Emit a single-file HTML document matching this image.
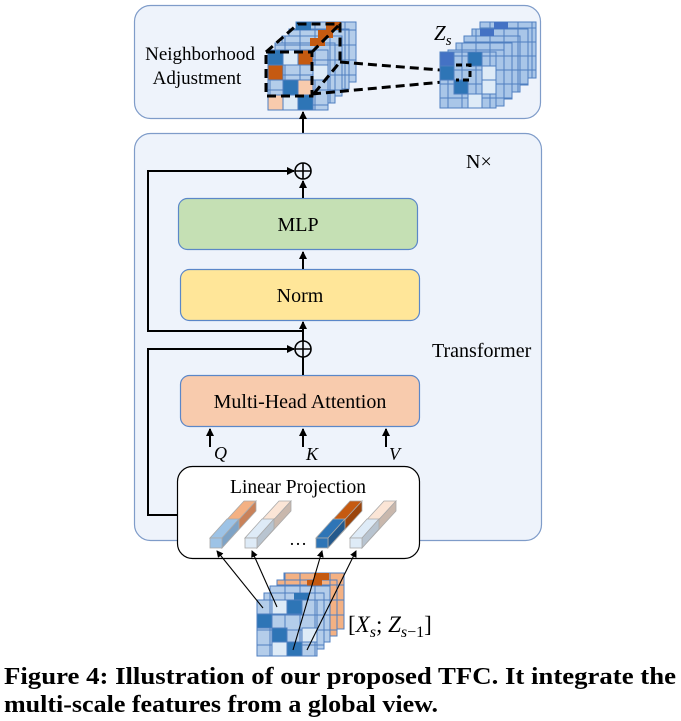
<!DOCTYPE html>
<html><head><meta charset="utf-8"><style>
body{margin:0;background:#fff;width:681px;height:721px;overflow:hidden}
svg{display:block}
.t{font-family:"Liberation Serif",serif;fill:#000}
</style></head><body>
<svg width="681" height="721" viewBox="0 0 681 721">
<defs>
<pattern id="pb" width="15" height="15" patternUnits="userSpaceOnUse"><rect x="0" y="0" width="15" height="15" fill="#b4cdea" stroke="#4f7fc0" stroke-width="1"/></pattern>
<pattern id="po" width="15" height="15" patternUnits="userSpaceOnUse"><rect x="0" y="0" width="15" height="15" fill="#f4b183" stroke="#4f7fc0" stroke-width="1"/></pattern>
<pattern id="pz" width="14" height="14" patternUnits="userSpaceOnUse"><rect x="0" y="0" width="14" height="14" fill="#a9c6e8" stroke="#4f7fc0" stroke-width="1"/></pattern>
<marker id="ar" markerWidth="8" markerHeight="8" refX="7" refY="4" orient="auto" markerUnits="userSpaceOnUse"><path d="M0,0 L8,4 L0,8 z" fill="#000"/></marker>
<marker id="as" markerWidth="7" markerHeight="7" refX="6" refY="3.5" orient="auto" markerUnits="userSpaceOnUse"><path d="M0,0 L7,3.5 L0,7 z" fill="#000"/></marker>
</defs>

<rect x="134.5" y="5.5" width="406" height="113" rx="16" fill="#eef3fb" stroke="#7f9cc9" stroke-width="1.2"/>
<text class="t" x="200" y="60" font-size="19" text-anchor="middle">Neighborhood</text>
<text class="t" x="197" y="84" font-size="19" text-anchor="middle">Adjustment</text>

<rect x="296" y="22" width="60" height="60" fill="url(#pb)" stroke="#4f7fc0"/>
<rect x="289" y="29" width="60" height="60" fill="url(#pb)" stroke="#4f7fc0"/>
<rect x="282" y="36" width="60" height="60" fill="url(#pb)" stroke="#4f7fc0"/>
<rect x="275" y="43" width="60" height="60" fill="url(#pb)" stroke="#4f7fc0"/>
<rect x="296" y="22" width="15" height="8" fill="#2e75b6"/>
<rect x="326" y="22" width="15" height="8" fill="#c55a11"/>
<rect x="318" y="30" width="15" height="8" fill="#c55a11"/>
<rect x="310" y="38" width="15" height="8" fill="#c55a11"/>
<rect x="268" y="50" width="60" height="60" fill="url(#pb)" stroke="#4f7fc0"/>
<rect x="268" y="50" width="15" height="15" fill="#2e75b6" stroke="#4f7fc0"/>
<rect x="283" y="50" width="15" height="15" fill="#deebf7" stroke="#4f7fc0"/>
<rect x="298" y="50" width="15" height="15" fill="#c55a11" stroke="#4f7fc0"/>
<rect x="268" y="65" width="15" height="15" fill="#c55a11" stroke="#4f7fc0"/>
<rect x="313" y="65" width="15" height="15" fill="#deebf7" stroke="#4f7fc0"/>
<rect x="283" y="80" width="15" height="15" fill="#2e75b6" stroke="#4f7fc0"/>
<rect x="298" y="80" width="15" height="15" fill="#f8cbad" stroke="#4f7fc0"/>
<rect x="268" y="95" width="15" height="15" fill="#f8cbad" stroke="#4f7fc0"/>
<rect x="283" y="95" width="15" height="15" fill="#deebf7" stroke="#4f7fc0"/>
<rect x="298" y="95" width="15" height="15" fill="#2e75b6" stroke="#4f7fc0"/>
<g fill="none" stroke="#000" stroke-width="3" stroke-dasharray="9,5">
<rect x="266" y="52" width="46" height="44"/>
<path d="M266,52 L298,24 L340,24 L340,62 L312,96"/>
<path d="M312,52 L340,24"/>
<path d="M340,62 L465,72"/>
<path d="M312,94 L465,80" marker-end="url(#ar)"/>
</g>

<rect x="480" y="22" width="56" height="56" fill="url(#pz)" stroke="#4f7fc0"/>
<rect x="472" y="29" width="56" height="56" fill="url(#pz)" stroke="#4f7fc0"/>
<rect x="464" y="36" width="56" height="56" fill="url(#pz)" stroke="#4f7fc0"/>
<rect x="456" y="43" width="56" height="56" fill="url(#pz)" stroke="#4f7fc0"/>
<rect x="448" y="50" width="56" height="56" fill="url(#pz)" stroke="#4f7fc0"/>
<rect x="494" y="22" width="14" height="7" fill="#4472c4"/>
<rect x="480" y="29" width="14" height="7" fill="#4472c4"/>
<rect x="440" y="52" width="56" height="56" fill="url(#pz)" stroke="#4f7fc0"/>
<rect x="440" y="52" width="14" height="14" fill="#4472c4" stroke="#4f7fc0"/>
<rect x="468" y="52" width="14" height="14" fill="#2e75b6" stroke="#4f7fc0"/>
<rect x="440" y="66" width="14" height="14" fill="#2e75b6" stroke="#4f7fc0"/>
<rect x="454" y="80" width="14" height="14" fill="#2e75b6" stroke="#4f7fc0"/>
<rect x="482" y="66" width="14" height="14" fill="#deebf7" stroke="#4f7fc0"/>
<rect x="482" y="80" width="14" height="14" fill="#deebf7" stroke="#4f7fc0"/>
<rect x="468" y="94" width="14" height="14" fill="#deebf7" stroke="#4f7fc0"/>
<path d="M456,65 H470 V80 H456" fill="none" stroke="#000" stroke-width="3" stroke-dasharray="6,4"/>
<text class="t" x="434" y="40" font-size="21" font-style="italic">Z<tspan font-size="15" dy="5">s</tspan></text>

<line x1="303" y1="163" x2="303" y2="112" stroke="#000" stroke-width="2" marker-end="url(#ar)"/>

<rect x="134.5" y="133.5" width="407" height="407" rx="16" fill="#eef3fb" stroke="#7f9cc9" stroke-width="1.2"/>
<text class="t" x="466" y="168" font-size="20">N×</text>
<text class="t" x="432" y="357" font-size="20">Transformer</text>

<rect x="178.5" y="198.5" width="239" height="51" rx="9" fill="#c5e0b4" stroke="#5b87c8" stroke-width="1.2"/>
<text class="t" x="298" y="231" font-size="20" text-anchor="middle">MLP</text>
<rect x="180.5" y="269.5" width="239" height="51" rx="9" fill="#ffe699" stroke="#5b87c8" stroke-width="1.2"/>
<text class="t" x="300" y="302" font-size="20" text-anchor="middle">Norm</text>
<rect x="180.5" y="375.5" width="239" height="51" rx="9" fill="#f8cbad" stroke="#5b87c8" stroke-width="1.2"/>
<text class="t" x="300" y="408" font-size="20" text-anchor="middle">Multi-Head Attention</text>

<g fill="none" stroke="#000" stroke-width="1.6">
<circle cx="303" cy="171" r="8"/><path d="M295,171 H311 M303,163 V179"/>
<circle cx="303" cy="349" r="8"/><path d="M295,349 H311 M303,341 V357"/>
</g>
<g stroke="#000" stroke-width="2" fill="none">
<line x1="303" y1="198" x2="303" y2="181" marker-end="url(#ar)"/>
<line x1="303" y1="269" x2="303" y2="252" marker-end="url(#ar)"/>
<line x1="303" y1="341" x2="303" y2="322" marker-end="url(#ar)"/>
<line x1="303" y1="375" x2="303" y2="357"/>
<path d="M303,331 H148 V171 H294" marker-end="url(#ar)"/>
<path d="M177,515 H148 V349 H294" marker-end="url(#ar)"/>
<line x1="210" y1="447" x2="210" y2="429" marker-end="url(#ar)"/>
<line x1="303" y1="447" x2="303" y2="429" marker-end="url(#ar)"/>
<line x1="386" y1="447" x2="386" y2="429" marker-end="url(#ar)"/>
</g>
<text class="t" x="214" y="459" font-size="18" font-style="italic">Q</text>
<text class="t" x="306" y="460" font-size="18" font-style="italic">K</text>
<text class="t" x="389" y="460" font-size="18" font-style="italic">V</text>

<rect x="177.5" y="466.5" width="242" height="92" rx="15" fill="#fff" stroke="#000" stroke-width="1.2"/>
<text class="t" x="298" y="493" font-size="19.5" text-anchor="middle">Linear Projection</text>
<g stroke="#aaa" stroke-width="0.8">
<polygon points="210,538 222,538 256,501 244,501" fill="#f4b183"/>
<polygon points="222,538 222,548 256,511 256,501" fill="#c9825a"/>
<polygon points="210,538 222,538 239,519 227,519" fill="#9dc3e6"/>
<polygon points="222,538 222,548 239,529 239,519" fill="#7ea3c6"/>
<rect x="210" y="538" width="12" height="10" fill="#9dc3e6"/>
<polygon points="245,538 257,538 291,501 279,501" fill="#fbe5d6"/>
<polygon points="257,538 257,548 291,511 291,501" fill="#c9b8ad"/>
<polygon points="245,538 257,538 274,519 262,519" fill="#deebf7"/>
<polygon points="257,538 257,548 274,529 274,519" fill="#b8c4d0"/>
<rect x="245" y="538" width="12" height="10" fill="#deebf7"/>
<polygon points="316,538 328,538 362,501 350,501" fill="#c55a11"/>
<polygon points="328,538 328,548 362,511 362,501" fill="#9b450c"/>
<polygon points="316,538 328,538 345,519 333,519" fill="#2e75b6"/>
<polygon points="328,538 328,548 345,529 345,519" fill="#24598c"/>
<rect x="316" y="538" width="12" height="10" fill="#2e75b6"/>
<polygon points="350,538 362,538 396,501 384,501" fill="#fbe5d6"/>
<polygon points="362,538 362,548 396,511 396,501" fill="#c9b8ad"/>
<polygon points="350,538 362,538 379,519 367,519" fill="#deebf7"/>
<polygon points="362,538 362,548 379,529 379,519" fill="#b8c4d0"/>
<rect x="350" y="538" width="12" height="10" fill="#deebf7"/>
</g>
<text class="t" x="289" y="545" font-size="18">…</text>

<rect x="284" y="573" width="60" height="56" fill="url(#po)" stroke="#4f7fc0"/>
<rect x="277" y="580" width="60" height="56" fill="url(#po)" stroke="#4f7fc0"/>
<rect x="314" y="573" width="15" height="7" fill="#c55a11"/>
<rect x="307" y="580" width="15" height="7" fill="#c55a11"/>
<rect x="270" y="586" width="60" height="56" fill="url(#pb)" stroke="#4f7fc0"/>
<rect x="264" y="593" width="60" height="56" fill="url(#pb)" stroke="#4f7fc0"/>
<rect x="294" y="593" width="15" height="8" fill="#2e75b6"/>
<rect x="257" y="600" width="60" height="56" fill="url(#pb)" stroke="#4f7fc0"/>
<rect x="257" y="614" width="15" height="14" fill="#2e75b6" stroke="#4f7fc0"/>
<rect x="272" y="628" width="15" height="14" fill="#2e75b6" stroke="#4f7fc0"/>
<rect x="287" y="600" width="15" height="14" fill="#2e75b6" stroke="#4f7fc0"/>
<rect x="287" y="642" width="15" height="14" fill="#2e75b6" stroke="#4f7fc0"/>
<rect x="272" y="600" width="15" height="14" fill="#deebf7" stroke="#4f7fc0"/>
<rect x="302" y="628" width="15" height="14" fill="#deebf7" stroke="#4f7fc0"/>
<rect x="272" y="642" width="15" height="14" fill="#deebf7" stroke="#4f7fc0"/>
<text class="t" x="348" y="632" font-size="23">[<tspan font-style="italic">X</tspan><tspan font-size="16" font-style="italic" dy="5">s</tspan><tspan dy="-5">; </tspan><tspan font-style="italic">Z</tspan><tspan font-size="16" dy="5"><tspan font-style="italic">s</tspan>−1</tspan><tspan dy="-5">]</tspan></text>
<g stroke="#000" stroke-width="1.1">
<line x1="263" y1="608" x2="217" y2="551" marker-end="url(#as)"/>
<line x1="277" y1="607" x2="252" y2="551" marker-end="url(#as)"/>
<line x1="293" y1="650" x2="322" y2="551" marker-end="url(#as)"/>
<line x1="307" y1="650" x2="356" y2="551" marker-end="url(#as)"/>
</g>

<text class="t" x="4" y="684" font-size="24" font-weight="bold" textLength="672" lengthAdjust="spacingAndGlyphs">Figure 4: Illustration of our proposed TFC. It integrate the</text>
<text class="t" x="4" y="712" font-size="24" font-weight="bold" textLength="434" lengthAdjust="spacingAndGlyphs">multi-scale features from a global view.</text>
</svg>
</body></html>
